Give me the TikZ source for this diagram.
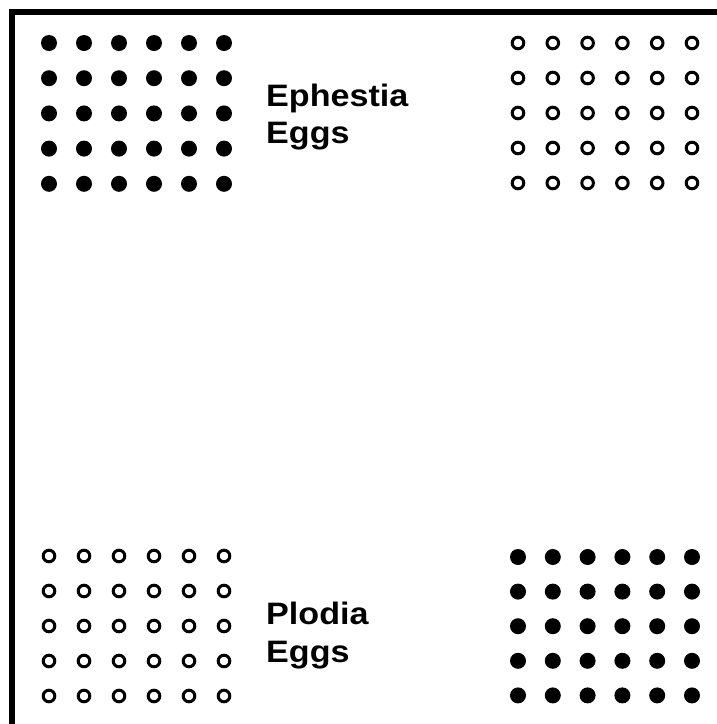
\documentclass[tikz,border=0pt]{standalone}
\usepackage{fontspec}
\setmainfont{Liberation Sans}
\newfontfamily\labfont[FakeStretch=1.1]{Liberation Sans}
\usetikzlibrary{positioning}

\begin{document}
\begin{tikzpicture}[x=1pt, y=-1pt,
  frame/.style={line width=5.5pt},
  lab/.style={align=left, anchor=base west, inner sep=0pt,
    font=\labfont\fontsize{31}{37.5}\selectfont\bfseries}]
\useasboundingbox (0,0) rectangle (717,724);
\draw[frame] (12,724) -- (12,12) -- (717,12);
% Ephestia eggs (top left, filled)
\begin{scope}[shift={(49,43)}]
  \foreach \i in {0,...,5} \foreach \j in {0,...,4}
    \fill (35*\i,35.2*\j) circle (8);
\end{scope}
\node[lab] (eph) at (266,143.5) {Ephestia\\Eggs};
% top right, open
\begin{scope}[shift={(518,43)}]
  \foreach \i in {0,...,5} \foreach \j in {0,...,4}
    \draw[line width=3pt] (34.8*\i,35*\j) circle (5.8);
\end{scope}
% Plodia eggs (bottom left, open)
\begin{scope}[shift={(49,556)}]
  \foreach \i in {0,...,5} \foreach \j in {0,...,4}
    \draw[line width=3pt] (35*\i,35*\j) circle (5.8);
\end{scope}
\node[lab] (plo) at (266,662) {Plodia\\Eggs};
% bottom right, filled
\begin{scope}[shift={(518,557)}]
  \foreach \i in {0,...,5} \foreach \j in {0,...,4}
    \fill (34.8*\i,34.6*\j) circle (8);
\end{scope}
\end{tikzpicture}
\end{document}
